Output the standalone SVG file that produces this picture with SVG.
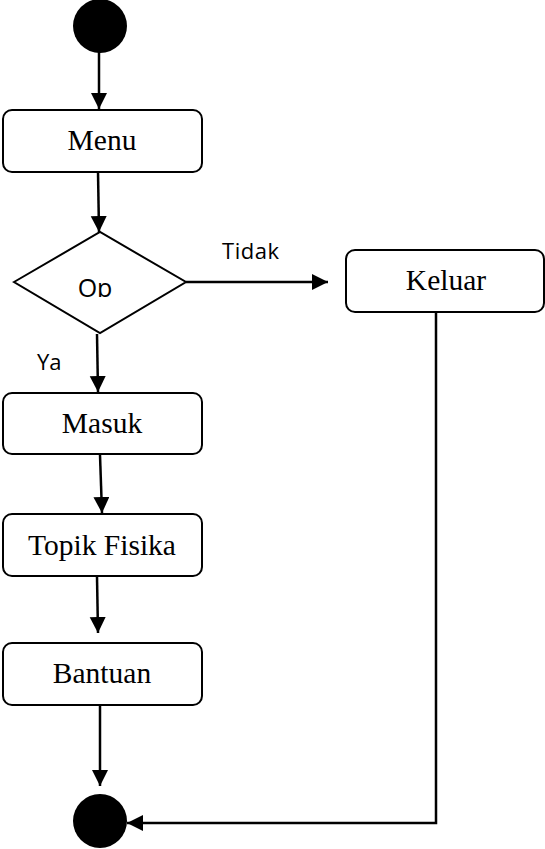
<svg xmlns="http://www.w3.org/2000/svg" width="545" height="849" viewBox="0 0 545 849">
<style>
.box{fill:#fff;stroke:#000;stroke-width:2}
.lbl{font-family:"Liberation Serif","Times New Roman",serif;font-size:29.5px;fill:#000;text-anchor:middle}
.sans{font-family:"Open Sans","Liberation Sans",sans-serif;font-size:22px;fill:#000}
.conn{fill:none;stroke:#000;stroke-width:2.5}
</style>
<defs>
<marker id="arr" markerUnits="userSpaceOnUse" markerWidth="17" markerHeight="17" refX="16" refY="8" orient="auto">
<path d="M0,0 L16,8 L0,16 z" fill="#000"/>
</marker>
<clipPath id="opclip"><rect x="0" y="0" width="545" height="297"/></clipPath>
</defs>
<g id="connectors">
<line class="conn" x1="99" y1="52" x2="99" y2="109" marker-end="url(#arr)"/>
<line class="conn" x1="98" y1="172" x2="99" y2="232" marker-end="url(#arr)"/>
<line class="conn" x1="186" y1="282" x2="328" y2="282" marker-end="url(#arr)"/>
<line class="conn" x1="97" y1="334" x2="98" y2="392" marker-end="url(#arr)"/>
<line class="conn" x1="100" y1="455" x2="102" y2="513" marker-end="url(#arr)"/>
<line class="conn" x1="97" y1="577" x2="98" y2="633" marker-end="url(#arr)"/>
<line class="conn" x1="100" y1="706" x2="100" y2="786" marker-end="url(#arr)"/>
<polyline class="conn" points="436,312 436,823 127,823" marker-end="url(#arr)"/>
<text class="sans" x="222" y="259" textLength="57">Tidak</text>
<text class="sans" x="37" y="370">Ya</text>
</g>
<g id="start"><circle cx="100" cy="26" r="27" fill="#000"/></g>
<g id="menu"><rect class="box" x="3" y="110" width="199" height="62" rx="9"/><text class="lbl" x="102" y="150">Menu</text></g>
<g id="op"><polygon class="box" points="14,282 100,232 186,282 100,333"/><text class="sans" x="95" y="297" text-anchor="middle" clip-path="url(#opclip)" style="font-size:25px">Op</text></g>
<g id="keluar"><rect class="box" x="346" y="250" width="198" height="62" rx="9"/><text class="lbl" x="446" y="290">Keluar</text></g>
<g id="masuk"><rect class="box" x="3" y="393" width="199" height="61" rx="9"/><text class="lbl" x="102" y="433">Masuk</text></g>
<g id="topik"><rect class="box" x="3" y="514" width="199" height="62" rx="9"/><text class="lbl" x="102" y="555">Topik Fisika</text></g>
<g id="bantuan"><rect class="box" x="3" y="643" width="199" height="62" rx="9"/><text class="lbl" x="102" y="683">Bantuan</text></g>
<g id="end"><circle cx="100" cy="821" r="27" fill="#000"/></g>
</svg>
